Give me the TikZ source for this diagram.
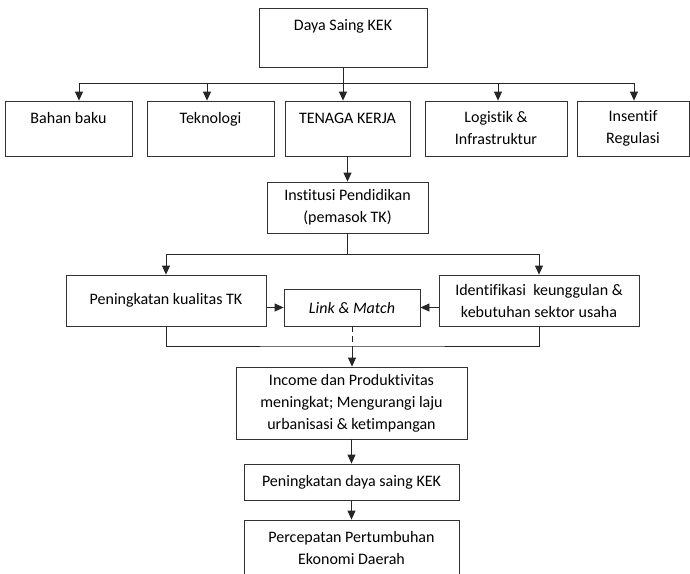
\documentclass[tikz,border=0pt]{standalone}
\usepackage{fontspec}
\setmainfont{Carlito}[Ligatures=NoCommon]
\usetikzlibrary{arrows.meta,positioning}

\begin{document}
\begin{tikzpicture}[x=1pt, y=-1pt,
                    every node/.style={font=\fontsize{16}{22}\selectfont},
                    box/.style={draw=black!80, line width=0.8pt, align=center, inner sep=0pt},
                    topbox/.style={box, text height=11pt, inner ysep=11.5pt},
                    line/.style={draw=black!85, line width=0.8pt},
                    arr/.style={line, -{Triangle[length=9pt,width=8pt]}}]
    \useasboundingbox (0,0) rectangle (690,573);
    \clip (0,0) rectangle (690,573);

   % top level
   \node[topbox, minimum width=168pt, text depth=25pt] (dsk) at (343,37.5) {Daya Saing KEK};

   % factors
   \node[topbox, minimum width=127pt, text depth=21pt] (bahan) at (68.5,128.5) {Bahan baku};
   \node[topbox, minimum width=127pt, text depth=21pt] (tekno) at (210.5,128.5) {Teknologi};
   \node[topbox, minimum width=125pt, text depth=21pt] (tenaga) at (347.5,128.5) {TENAGA KERJA};
   \node[box, minimum width=142pt, minimum height=55pt] (logistik) at (496,128.5) {Logistik \&\\Infrastruktur};
   \node[box, minimum width=112pt, minimum height=55pt] (insentif) at (633,128.5) {Insentif\\Regulasi};

   % chain below
   \node[box, minimum width=161pt, minimum height=51pt] (inst) at (347.5,207.5) {Institusi Pendidikan\\(pemasok TK)};
   \node[box, minimum width=200pt, minimum height=51pt] (kual) at (166,300.5) {Peningkatan kualitas TK};
   \node[box, minimum width=136pt, minimum height=37pt] (link) at (352,307.5) {\itshape Link \& Match};
   \node[box, minimum width=200pt, minimum height=51pt] (ident) at (539,300.5) {Identifikasi\ \ keunggulan \&\\kebutuhan sektor usaha};
   \node[box, minimum width=231pt, minimum height=72pt] (income) at (351.5,403) {Income dan Produktivitas\\meningkat; Mengurangi laju\\urbanisasi \& ketimpangan};
   \node[box, minimum width=215pt, minimum height=36pt] (pdsk) at (351.5,482) {Peningkatan daya saing KEK};
   \node[box, minimum width=215pt, minimum height=56pt] (perc) at (351.5,548) {Percepatan Pertumbuhan\\Ekonomi Daerah};

   % bus under the top box
   \coordinate (b1) at (79,83);
   \coordinate (b2) at (207,83);
   \coordinate (b3) at (343,83);
   \coordinate (b4) at (498,83);
   \coordinate (b5) at (634,83);
   \draw[line] (b1) -- (b5);
   \draw[arr] (dsk.south) -- (b3 |- tenaga.north);
   \foreach \b/\n in {b1/bahan, b2/tekno, b4/logistik, b5/insentif}
      \draw[arr] (\b) -- (\b |- \n.north);

   \draw[arr] (tenaga.south) -- (inst.north);
   \draw[arr] (inst.south) -- ++(0,21) -| (kual.north);
   \draw[arr] (inst.south) -- ++(0,21) -| (ident.north);
   \draw[arr] (kual.east |- link.west) -- (link.west);
   \draw[arr] (ident.west |- link.east) -- (link.east);

   % joining line
   \coordinate (low) at (352,346);
   \draw[line] (kual.south) |- (low) -| (ident.south);
   \draw[line, dash pattern=on 6pt off 4pt] (link.south) -- (low);
   \draw[arr] (low) -- (low |- income.north);
   \draw[arr] (income.south) -- (pdsk.north);
   \draw[arr] (pdsk.south) -- (perc.north);

\end{tikzpicture}
\end{document}
